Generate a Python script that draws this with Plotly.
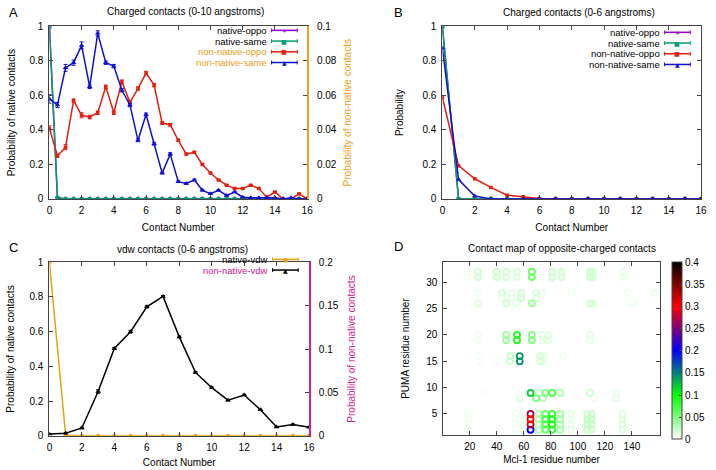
import plotly.graph_objects as go

FONT = "Liberation Sans, Arial, sans-serif"
W, H = 716, 470

ORANGE = "#f0a020"
MAGENTA = "#d4208c"
PURPLE = "#9400d3"
GREEN = "#009e73"
RED = "#e51e10"
BLUE = "#1010d0"
GOLD = "#e6a010"
FRAME = "#444444"

# ---------------- Panel A data ----------------
a_x = [0, 0.5, 1, 1.5, 2, 2.5, 3, 3.5, 4, 4.5, 5, 5.5, 6, 6.5, 7, 7.5, 8, 8.5,
       9, 9.5, 10, 10.5, 11, 11.5, 12, 12.5, 13, 13.5, 14, 14.5, 15, 15.5, 16]
a_native_oppo = [1.0, 0.008, 0, 0, 0, 0, 0, 0, 0, 0, 0, 0, 0, 0, 0, 0, 0, 0,
                 0, 0, 0, 0, 0, 0, 0, 0, 0, 0, 0, 0, 0, 0, 0]
a_native_same = [1.0, 0.005, 0, 0, 0, 0, 0, 0, 0, 0, 0, 0, 0, 0, 0, 0, 0, 0,
                 0, 0, 0, 0, 0, 0, 0, 0, 0, 0, 0, 0, 0, 0, 0]
a_nonnative_oppo = [0.041, 0.025, 0.030, 0.057, 0.0485, 0.0475, 0.050, 0.065, 0.050,
                    0.068, 0.056, 0.064, 0.073, 0.066, 0.044, 0.043, 0.034, 0.026,
                    0.027, 0.020, 0.015, 0.011, 0.008, 0.006, 0.006, 0.008, 0.006,
                    0.001, 0.004, 0.0, 0.0, 0.003, 0.0]
a_nonnative_oppo_err = [0.0015, 0.001, 0.0015, 0.001, 0.0015, 0.001, 0.001, 0.001, 0.001,
                        0.001, 0.001, 0.001, 0.001, 0.001, 0.0008, 0.0008, 0.0006, 0.0006,
                        0.0006, 0.0005, 0.0005, 0.0004, 0.0004, 0.0003, 0.0003, 0.0003,
                        0.0003, 0.0002, 0.0003, 0.0001, 0.0001, 0.0002, 0.0001]
a_nonnative_same = [0.058, 0.0545, 0.076, 0.079, 0.089, 0.065, 0.096, 0.079, 0.077,
                    0.063, 0.0545, 0.034, 0.049, 0.032, 0.015, 0.026, 0.010, 0.009,
                    0.011, 0.005, 0.003, 0.005, 0.002, 0.004, 0.001, 0.0007, 0.0007,
                    0.0007, 0.0007, 0.0, 0.0007, 0.0, 0.0]
a_nonnative_same_err = [0.0025, 0.0015, 0.002, 0.0015, 0.002, 0.001, 0.0015, 0.001, 0.001,
                        0.001, 0.001, 0.0008, 0.0008, 0.0008, 0.0005, 0.0008, 0.0005, 0.0005,
                        0.0005, 0.0004, 0.0004, 0.0004, 0.0003, 0.0003, 0.0002, 0.0002,
                        0.0002, 0.0002, 0.0002, 0.0001, 0.0002, 0.0001, 0.0001]

# ---------------- Panel B data ----------------
b_x = [0, 1, 2, 3, 4, 5, 6, 7, 8, 9, 10, 11, 12, 13, 14, 15, 16]
b_native_oppo = [1.0, 0, 0, 0, 0, 0, 0, 0, 0, 0, 0, 0, 0, 0, 0, 0, 0]
b_native_same = [1.0, 0, 0, 0, 0, 0, 0, 0, 0, 0, 0, 0, 0, 0, 0, 0, 0]
b_nonnative_oppo = [0.59, 0.193, 0.117, 0.067, 0.022, 0.013, 0.002, 0, 0, 0, 0, 0, 0, 0, 0, 0, 0]
b_nonnative_same = [0.875, 0.112, 0.017, 0, 0, 0, 0, 0, 0, 0, 0, 0, 0, 0, 0, 0, 0]

# ---------------- Panel C data ----------------
c_x = [0, 1, 2, 3, 4, 5, 6, 7, 8, 9, 10, 11, 12, 13, 14, 15, 16]
c_native_vdw = [1.0, 0.003, 0, 0, 0, 0, 0, 0, 0, 0, 0, 0, 0, 0, 0, 0, 0]
c_nonnative_vdw = [0.002, 0.003, 0.009, 0.051, 0.1006, 0.120, 0.1486, 0.1606, 0.114,
                   0.073, 0.0555, 0.041, 0.047, 0.030, 0.010, 0.013, 0.0098]
c_nonnative_vdw_err = [0.0005, 0.0008, 0.0008, 0.002, 0.0012, 0.0015, 0.0012, 0.001, 0.001,
                       0.001, 0.0008, 0.0008, 0.0008, 0.0006, 0.0005, 0.0005, 0.0005]

# ---------------- Panel D data (Mcl-1 residue, PUMA residue, probability) ----------------
d_mcl1 = [18, 26, 40, 47, 55, 66, 81, 88, 109, 111, 134,
          18, 26, 40, 47, 55, 66, 81, 88, 109, 111, 134,
          26, 44, 51, 58, 69, 74, 95, 137, 157,
          44, 51, 58, 69,
          26, 47, 54, 66, 70, 109, 111, 141,
          26, 47, 55, 66, 74, 78, 109,
          26, 47, 55, 66, 74, 78, 109,
          27, 50, 57, 72, 74, 89,
          27, 40, 50, 57, 72, 74,
          30, 65, 71, 76, 81, 87, 109, 129,
          57, 69, 74, 112, 128,
          19, 54, 60, 65, 71, 76, 81, 87, 95, 107, 110, 133,
          19, 54, 60, 65, 71, 76, 81, 87, 95, 107, 110, 133,
          19, 54, 60, 65, 71, 76, 81, 87, 95, 107, 110, 133,
          19, 54, 60, 65, 71, 76, 81, 87, 95, 107, 110, 133]
d_puma = [32, 32, 32, 32, 32, 32, 32, 32, 32, 32, 32,
          31, 31, 31, 31, 31, 31, 31, 31, 31, 31, 31,
          28, 28, 28, 28, 28, 28, 28, 28, 28,
          27, 27, 27, 27,
          26, 26, 26, 26, 26, 26, 26, 26,
          20, 20, 20, 20, 20, 20, 20,
          19, 19, 19, 19, 19, 19, 19,
          16, 16, 16, 16, 16, 16,
          15, 15, 15, 15, 15, 15,
          9, 9, 9, 9, 9, 9, 9, 9,
          8, 8, 8, 8, 8,
          5, 5, 5, 5, 5, 5, 5, 5, 5, 5, 5, 5,
          4, 4, 4, 4, 4, 4, 4, 4, 4, 4, 4, 4,
          3, 3, 3, 3, 3, 3, 3, 3, 3, 3, 3, 3,
          2, 2, 2, 2, 2, 2, 2, 2, 2, 2, 2, 2]
d_prob = [0.005, 0.018, 0.02, 0.018, 0.015, 0.06, 0.02, 0.018, 0.02, 0.018, 0.01,
          0.005, 0.018, 0.02, 0.018, 0.015, 0.06, 0.02, 0.018, 0.02, 0.018, 0.01,
          0.005, 0.018, 0.012, 0.02, 0.015, 0.008, 0.005, 0.005, 0.01,
          0.008, 0.01, 0.02, 0.012,
          0.012, 0.018, 0.01, 0.04, 0.005, 0.018, 0.015, 0.008,
          0.006, 0.04, 0.09, 0.05, 0.012, 0.012, 0.012,
          0.005, 0.04, 0.09, 0.05, 0.01, 0.012, 0.01,
          0.005, 0.025, 0.14, 0.015, 0.015, 0.006,
          0.005, 0.005, 0.02, 0.14, 0.015, 0.012,
          0.005, 0.12, 0.02, 0.05, 0.07, 0.03, 0.02, 0.008,
          0.012, 0.05, 0.03, 0.006, 0.01,
          0.005, 0.006, 0.01, 0.27, 0.03, 0.06, 0.08, 0.035, 0.01, 0.02, 0.02, 0.015,
          0.006, 0.006, 0.01, 0.30, 0.03, 0.07, 0.09, 0.035, 0.01, 0.025, 0.025, 0.015,
          0.006, 0.006, 0.01, 0.28, 0.03, 0.07, 0.09, 0.035, 0.01, 0.025, 0.025, 0.015,
          0.005, 0.006, 0.01, 0.20, 0.03, 0.06, 0.08, 0.035, 0.01, 0.02, 0.02, 0.012]

d_colorscale = [[0.0, "#ffffff"], [0.25, "#00ff00"], [0.5, "#0000ff"],
                [0.75, "#ff0000"], [1.0, "#000000"]]


def px(x):
    return x / W


def py(y):
    return 1 - y / H


fig = go.Figure()

# ----- Panel A traces -----
fig.add_trace(go.Scatter(x=a_x, y=a_native_oppo, xaxis="x", yaxis="y", mode="lines+markers",
                         line=dict(color=PURPLE, width=1.5),
                         marker=dict(symbol="cross", size=4, color=PURPLE), showlegend=False))
fig.add_trace(go.Scatter(x=a_x, y=a_native_same, xaxis="x", yaxis="y", mode="lines+markers",
                         line=dict(color=GREEN, width=1.5),
                         marker=dict(symbol="square", size=4, color=GREEN), showlegend=False))
fig.add_trace(go.Scatter(x=a_x, y=a_nonnative_oppo, xaxis="x", yaxis="y2", mode="lines+markers",
                         line=dict(color=RED, width=1.5),
                         error_y=dict(type="data", array=a_nonnative_oppo_err, color=RED,
                                      thickness=1, width=2),
                         marker=dict(symbol="square", size=3.5, color=RED), showlegend=False))
fig.add_trace(go.Scatter(x=a_x, y=a_nonnative_same, xaxis="x", yaxis="y2", mode="lines+markers",
                         line=dict(color=BLUE, width=1.5),
                         error_y=dict(type="data", array=a_nonnative_same_err, color=BLUE,
                                      thickness=1, width=2),
                         marker=dict(symbol="triangle-up", size=5, color=BLUE), showlegend=False))

# ----- Panel B traces -----
fig.add_trace(go.Scatter(x=b_x, y=b_native_oppo, xaxis="x2", yaxis="y3", mode="lines+markers",
                         line=dict(color=PURPLE, width=1.5),
                         marker=dict(symbol="cross", size=4, color=PURPLE), showlegend=False))
fig.add_trace(go.Scatter(x=b_x, y=b_native_same, xaxis="x2", yaxis="y3", mode="lines+markers",
                         line=dict(color=GREEN, width=1.5),
                         marker=dict(symbol="square", size=4, color=GREEN), showlegend=False))
fig.add_trace(go.Scatter(x=b_x, y=b_nonnative_oppo, xaxis="x2", yaxis="y3", mode="lines+markers",
                         line=dict(color=RED, width=1.5),
                         marker=dict(symbol="square", size=3.5, color=RED), showlegend=False))
fig.add_trace(go.Scatter(x=b_x, y=b_nonnative_same, xaxis="x2", yaxis="y3", mode="lines+markers",
                         line=dict(color=BLUE, width=1.5),
                         marker=dict(symbol="triangle-up", size=5, color=BLUE), showlegend=False))

# ----- Panel C traces -----
fig.add_trace(go.Scatter(x=c_x, y=c_native_vdw, xaxis="x3", yaxis="y4", mode="lines+markers",
                         line=dict(color=GOLD, width=1.5),
                         marker=dict(symbol="circle", size=4, color=GOLD), showlegend=False))
fig.add_trace(go.Scatter(x=c_x, y=c_nonnative_vdw, xaxis="x3", yaxis="y5", mode="lines+markers",
                         line=dict(color="black", width=1.5),
                         error_y=dict(type="data", array=c_nonnative_vdw_err, color="black",
                                      thickness=1, width=2),
                         marker=dict(symbol="triangle-up", size=5, color="black"), showlegend=False))

# ----- Panel D trace -----
order = sorted(range(len(d_prob)), key=lambda i: d_prob[i])
fig.add_trace(go.Scatter(
    x=[d_mcl1[i] for i in order], y=[d_puma[i] for i in order], xaxis="x4", yaxis="y6",
    mode="markers", showlegend=False,
    marker=dict(symbol="circle-open", size=6, line=dict(width=1.8),
                color=[d_prob[i] for i in order], colorscale=d_colorscale, cmin=0, cmax=0.4,
                colorbar=dict(x=px(678), xanchor="left", y=py(263), yanchor="top",
                              len=177, lenmode="pixels", thickness=10, thicknessmode="pixels",
                              outlinecolor=FRAME, outlinewidth=1,
                              tickvals=[0, 0.05, 0.1, 0.15, 0.2, 0.25, 0.3, 0.35, 0.4],
                              ticks="inside", ticklen=3, tickcolor=FRAME, xpad=0, ypad=0,
                              tickfont=dict(size=10, color="black", family=FONT)))))

tickfont = dict(size=10, color="black", family=FONT)
titlefont = dict(size=10, color="black", family=FONT)


def xax(domain, anchor, rng, title, dtick=None, tickvals=None, standoff=9):
    d = dict(domain=domain, anchor=anchor, range=rng, showline=True, linecolor=FRAME, linewidth=1,
             mirror="ticks", ticks="inside", ticklen=4, tickcolor=FRAME, showgrid=False,
             zeroline=False, tickfont=tickfont, ticklabelstandoff=2,
             title=dict(text=title, font=titlefont, standoff=standoff))
    if dtick is not None:
        d["dtick"] = dtick
        d["tick0"] = 0
    if tickvals is not None:
        d["tickvals"] = tickvals
    return d


def yax(domain, anchor, rng, title, dtick, mirror, standoff):
    return dict(domain=domain, anchor=anchor, range=rng, dtick=dtick, tick0=0, showline=True,
                linecolor=FRAME, linewidth=1, mirror=mirror, ticks="inside", ticklen=4,
                tickcolor=FRAME, showgrid=False, zeroline=False, tickfont=tickfont,
                ticklabelstandoff=3,
                title=dict(text=title, font=titlefont, standoff=standoff))


top_dom = [py(198), py(21)]
bot_dom = [py(441), py(263)]

layout = dict(
    width=W, height=H, margin=dict(l=0, r=0, t=0, b=0),
    paper_bgcolor="white", plot_bgcolor="white", font=dict(family=FONT, size=10, color="black"),
    xaxis=xax([px(47), px(308)], "y", [0, 16], "Contact Number", dtick=2),
    yaxis=yax(top_dom, "x", [0, 1], "Probability of native contacts", 0.2, False, 12),
    yaxis2=dict(overlaying="y", anchor="x", side="right", range=[0, 0.1], dtick=0.02, tick0=0,
                showline=True, linecolor=ORANGE, linewidth=1.5, ticks="inside", ticklen=4,
                tickcolor=FRAME, showgrid=False, zeroline=False, tickfont=tickfont,
                ticklabelstandoff=6,
                title=dict(text="Probability of non-native contacts",
                           font=dict(size=10, color=ORANGE, family=FONT), standoff=8)),
    xaxis2=xax([px(445), px(707)], "y3", [0, 16], "Contact Number", dtick=2),
    yaxis3=yax(top_dom, "x2", [0, 1], "Probability", 0.2, "ticks", 16),
    xaxis3=xax([px(47), px(310)], "y4", [0, 16], "Contact Number", dtick=2, standoff=7),
    yaxis4=yax(bot_dom, "x3", [0, 1], "Probability of native contacts", 0.2, False, 12),
    yaxis5=dict(overlaying="y4", anchor="x3", side="right", range=[0, 0.2], dtick=0.05, tick0=0,
                showline=True, linecolor=MAGENTA, linewidth=1.5, ticks="inside", ticklen=4,
                tickcolor=FRAME, showgrid=False, zeroline=False, tickfont=tickfont,
                ticklabelstandoff=6,
                title=dict(text="Probability of non-native contacts",
                           font=dict(size=10, color=MAGENTA, family=FONT), standoff=10)),
    xaxis4=xax([px(446), px(665)], "y6", [0.5, 160.5], "Mcl-1 residue number",
               tickvals=[20, 40, 60, 80, 100, 120, 140], standoff=5),
    yaxis6=yax([py(440), py(263)], "x4", [1.05, 33.8], "PUMA residue number", 5, "ticks", 14),
)
fig.update_layout(**layout)

# ----- Titles and panel letters -----
annots = [
    dict(text="A", x=px(4), y=py(7), xanchor="left", size=13),
    dict(text="B", x=px(394), y=py(7), xanchor="left", size=13),
    dict(text="C", x=px(4), y=py(248), xanchor="left", size=13),
    dict(text="D", x=px(394), y=py(247), xanchor="left", size=13),
    dict(text="Charged contacts (0-10 angstroms)", x=px(185), y=py(6), xanchor="center", size=10),
    dict(text="Charged contacts (0-6 angstroms)", x=px(583), y=py(7), xanchor="center", size=10),
    dict(text="vdw contacts (0-6 angstroms)", x=px(182), y=py(250), xanchor="center", size=10),
    dict(text="Contact map of opposite-charged contacts", x=px(566), y=py(249), xanchor="center", size=10),
]
ann_list = []
for a in annots:
    ann_list.append(dict(text=a["text"], x=a["x"], y=a["y"], xref="paper", yref="paper",
                         xanchor=a["xanchor"], yanchor="middle", showarrow=False,
                         font=dict(size=a["size"], color="black", family=FONT)))

# ----- Manual gnuplot-style legends (text then sample) -----
shapes = []


def legend_item(text_right, y, label, label_color, line_color, symbol):
    ann_list.append(dict(text=label, x=px(text_right), y=py(y), xref="paper", yref="paper",
                         xanchor="right", yanchor="middle", showarrow=False, borderpad=0,
                         font=dict(size=9.5, color=label_color, family=FONT)))
    x1, x2 = text_right + 4, text_right + 30
    shapes.append(dict(type="line", xref="paper", yref="paper", x0=px(x1), x1=px(x2),
                       y0=py(y), y1=py(y), line=dict(color=line_color, width=1.5)))
    for xc in (x1, x2):
        shapes.append(dict(type="line", xref="paper", yref="paper", x0=px(xc), x1=px(xc),
                           y0=py(y - 2), y1=py(y + 2), line=dict(color=line_color, width=1)))
    ann_list.append(dict(text=symbol, x=px((x1 + x2) / 2), y=py(y), xref="paper", yref="paper",
                         xanchor="center", yanchor="middle", showarrow=False, borderpad=0,
                         font=dict(size=6, color=line_color, family="DejaVu Sans")))


legend_item(268, 25, "native-oppo", "black", PURPLE, "+")
legend_item(268, 36, "native-same", "black", GREEN, "■")
legend_item(268, 47, "non-native-oppo", ORANGE, RED, "■")
legend_item(268, 58, "non-native-same", ORANGE, BLUE, "▲")

legend_item(666, 27, "native-oppo", "black", PURPLE, "+")
legend_item(666, 38, "native-same", "black", GREEN, "■")
legend_item(666, 49, "non-native-oppo", "black", RED, "■")
legend_item(666, 60, "non-native-same", "black", BLUE, "▲")

legend_item(269, 260, "native-vdw", "black", GOLD, "●")
legend_item(269, 271, "non-native-vdw", MAGENTA, "black", "▲")

fig.update_layout(annotations=ann_list, shapes=shapes)

fig.write_html("out.html", config={"displayModeBar": False},
               post_script="document.body.style.margin='0';")
